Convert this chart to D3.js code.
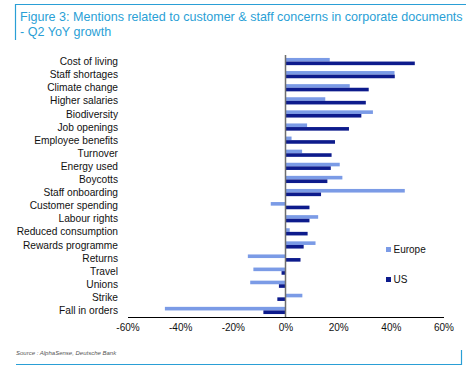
<!DOCTYPE html>
<html><head><meta charset="utf-8">
<script src="https://cdn.jsdelivr.net/npm/d3@7"></script>
<style>body{margin:0;background:#fff}svg{display:block}</style>
</head><body><svg id="c" width="474" height="378"></svg>
<script>
const categories = ["Cost of living","Staff shortages","Climate change","Higher salaries","Biodiversity","Job openings","Employee benefits","Turnover","Energy used","Boycotts","Staff onboarding","Customer spending","Labour rights","Reduced consumption","Rewards programme","Returns","Travel","Unions","Strike","Fall in orders"];
const europe = [16.8,41.4,24.4,15.1,33.2,8.2,2.3,6.3,20.6,21.6,45.3,-5.6,12.4,1.6,11.4,-14.3,-12.2,-13.4,6.4,-45.8];
const us = [49.1,41.5,31.6,30.5,28.8,24.1,18.8,17.5,17.2,15.9,13.5,9.1,9.1,8.4,6.9,5.7,-1.5,-2.5,-3.1,-8.4];
const seriesNames = ["Europe","US"];
const ticks = [-60,-40,-20,0,20,40,60];
const colors = {Europe:"#7b9be6", US:"#0d1b8c"};

const svg = d3.select("#c");
const font = "Liberation Sans, Arial, sans-serif";
const teal = "#2a9fd6";

// frame
svg.append("line").attr("x1",15).attr("x2",466).attr("y1",4.5).attr("y2",4.5).attr("stroke",teal).attr("stroke-width",1.2);
svg.append("line").attr("x1",15.5).attr("x2",15.5).attr("y1",4).attr("y2",40).attr("stroke",teal).attr("stroke-width",1.2);
svg.append("line").attr("x1",16).attr("x2",462).attr("y1",364.5).attr("y2",364.5).attr("stroke",teal).attr("stroke-width",1.2);
svg.append("line").attr("x1",461.5).attr("x2",461.5).attr("y1",350).attr("y2",365).attr("stroke",teal).attr("stroke-width",1.2);

// title
const t1 = svg.append("text").attr("x",20).attr("y",21).attr("fill",teal).style("font-family",font).style("font-size","12.5px")
  .text("Figure 3: Mentions related to customer & staff concerns in corporate documents");
const tl = t1.node().getComputedTextLength();
t1.style("font-size",(12.5*443/tl)+"px");
svg.append("text").attr("x",20).attr("y",36).attr("fill",teal).style("font-family",font).style("font-size",(12.5*443/tl)+"px")
  .text("- Q2 YoY growth");

// scales
const x = d3.scaleLinear().domain([-60,60]).range([127.5,443.5]);
const y = d3.scaleBand().domain(categories).range([55,317]);
const ys = d3.scaleBand().domain(seriesNames).range([0,y.bandwidth()]).paddingOuter(0.82);

const data = categories.map((c,i)=>({c, Europe:europe[i], US:us[i]}));
const g = svg.append("g");
seriesNames.forEach(s=>{
  g.selectAll("rect."+s).data(data).enter().append("rect")
    .attr("x",d=>x(Math.min(0,d[s])))
    .attr("width",d=>Math.abs(x(d[s])-x(0)))
    .attr("y",d=>y(d.c)+ys(s))
    .attr("height",ys.bandwidth())
    .attr("fill",colors[s]);
});

// zero line
svg.append("line").attr("x1",x(0)).attr("x2",x(0)).attr("y1",55).attr("y2",317).attr("stroke","#6e6e6e").attr("stroke-width",1.5);

// x axis
const xa = svg.append("g").attr("transform","translate(0,317)")
  .call(d3.axisBottom(x).tickValues(ticks).tickSize(0).tickPadding(7).tickFormat(d=>d+"%"));
xa.select(".domain").attr("stroke","#000").attr("stroke-width",1.2);
xa.selectAll("text").style("font-family",font).style("font-size","10px").attr("fill","#111");

// y labels
svg.append("g").selectAll("text").data(categories).enter().append("text")
  .attr("x",118).attr("y",d=>y(d)+y.bandwidth()/2).attr("dy","0.35em").attr("text-anchor","end")
  .style("font-family",font).style("font-size","10.2px").attr("fill","#111").text(d=>d);

// legend
const leg = [{s:"Europe",y:249.5},{s:"US",y:279.5}];
leg.forEach(l=>{
  svg.append("rect").attr("x",386).attr("y",l.y-2.5).attr("width",5).attr("height",5).attr("fill",colors[l.s]);
  svg.append("text").attr("x",393.5).attr("y",l.y).attr("dy","0.35em").style("font-family",font).style("font-size","10px").attr("fill","#111").text(l.s);
});

// source
svg.append("text").attr("x",16).attr("y",355).style("font-family",font).style("font-size","6px").style("font-style","italic").attr("fill","#555")
  .text("Source : AlphaSense, Deutsche Bank");
</script></body></html>
